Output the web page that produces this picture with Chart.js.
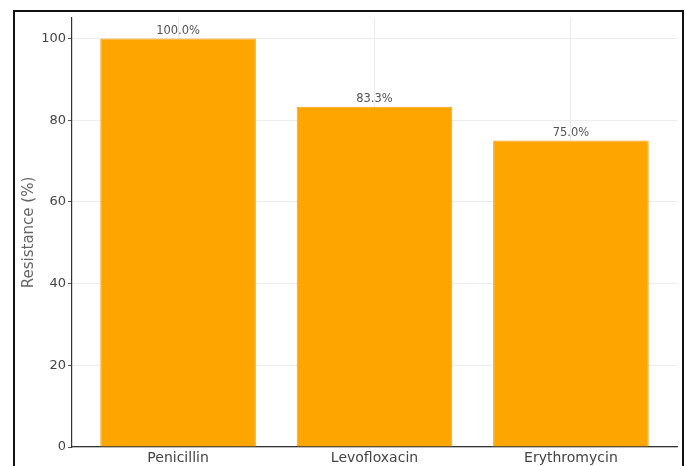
<!DOCTYPE html>
<html>
<head>
<meta charset="utf-8">
<script src="https://cdn.jsdelivr.net/npm/chart.js@4.4.0/dist/chart.umd.min.js"></script>
<style>
  html, body { margin: 0; padding: 0; background: #fff; overflow: hidden; }
  #wrap { position: relative; width: 685px; height: 466px; }
  #frame { position: absolute; left: 13px; top: 10px; width: 667px; height: 470px;
           border: 2px solid #111; pointer-events: none; }
</style>
</head>
<body>
<div id="wrap">
  <canvas id="resChart" width="685" height="466"></canvas>
  <div id="frame"></div>
</div>
<script>
// 항생제별 내성률
const drugs = ['Penicillin', 'Levofloxacin', 'Erythromycin'];
const resistance = [100.0, 83.3, 75.0];
const yTicks = [0, 20, 40, 60, 80, 100];

const textColor = '#444';
const fontFamily = '"DejaVu Sans", Verdana, sans-serif';

// 막대 위 퍼센트 라벨
const valueLabels = {
    id: 'valueLabels',
    afterDatasetsDraw(chart) {
        const ctx = chart.ctx;
        const meta = chart.getDatasetMeta(0);
        ctx.save();
        ctx.font = '11.5px ' + fontFamily;
        ctx.fillStyle = '#555';
        ctx.textAlign = 'center';
        ctx.textBaseline = 'bottom';
        meta.data.forEach(function(bar, i) {
            ctx.fillText(resistance[i].toFixed(1) + '%', bar.x, bar.y - 2);
        });
        ctx.restore();
    }
};

const ctx = document.getElementById('resChart').getContext('2d');

new Chart(ctx, {
    type: 'bar',
    data: {
        datasets: [{
            label: 'Resistance (%)',
            data: drugs.map((d, i) => ({ x: i, y: resistance[i] })),
            backgroundColor: '#ffa500',
            borderColor: '#f0a018',
            borderWidth: 1,
            categoryPercentage: 0.8,
            barPercentage: 0.99
        }]
    },
    options: {
        responsive: false,
        animation: false,
        layout: { padding: { left: 20, right: 8, top: 18, bottom: 0 } },
        plugins: {
            legend: { display: false },
            tooltip: { enabled: false }
        },
        scales: {
            x: {
                type: 'linear',
                min: -0.54,
                max: 2.54,
                offset: false,
                afterBuildTicks: function(scale) {
                    scale.ticks = drugs.map((d, i) => ({ value: i }));
                },
                afterFit: function(scale) { scale.height = 19; },
                grid: { color: '#ececec', drawTicks: false, offset: false },
                border: { color: '#333', width: 1.2 },
                ticks: {
                    padding: 3,
                    color: textColor,
                    font: { family: fontFamily, size: 14 },
                    maxRotation: 0,
                    callback: function(v) { return drugs[v]; }
                }
            },
            y: {
                min: 0,
                max: 105,
                afterBuildTicks: function(scale) {
                    scale.ticks = yTicks.map(v => ({ value: v }));
                },
                afterFit: function(scale) { scale.width = 52; },
                grid: { color: '#ececec', tickColor: '#555', tickLength: 4 },
                border: { color: '#333', width: 1.2 },
                ticks: {
                    padding: 2,
                    color: textColor,
                    font: { family: fontFamily, size: 13 }
                },
                title: {
                    display: true,
                    text: 'Resistance (%)',
                    color: '#666',
                    padding: 0,
                    font: { family: fontFamily, size: 15 }
                }
            }
        }
    },
    plugins: [valueLabels]
});
</script>
</body>
</html>
